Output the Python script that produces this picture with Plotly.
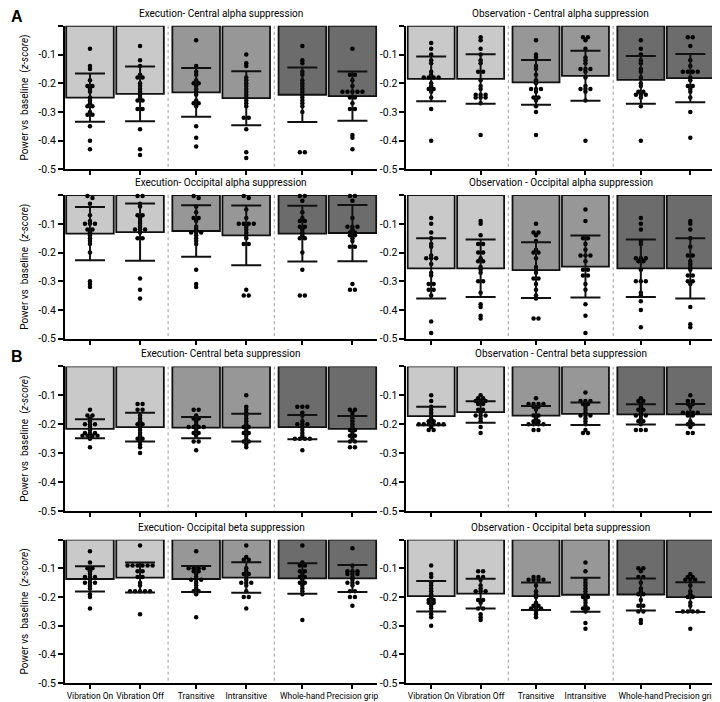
import numpy as np
import plotly.graph_objects as go

conditions = ["Vibration On", "Vibration Off", "Transitive", "Intransitive", "Whole-hand", "Precision grip"]
xpos = [0, 1, 2.12, 3.12, 4.24, 5.24]
separators = [1.56, 3.68]
bar_colors = ["#c9c9c9", "#c9c9c9", "#979797", "#979797", "#6c6c6c", "#6c6c6c"]

titles = [
    "Execution- Central alpha suppression", "Observation - Central alpha suppression",
    "Execution- Occipital alpha suppression", "Observation - Occipital alpha suppression",
    "Execution- Central beta suppression", "Observation - Central beta suppression",
    "Execution- Occipital beta suppression", "Observation - Occipital beta suppression",
]
ytick_vals = [0, -0.1, -0.2, -0.3, -0.4, -0.5]
ytick_text = ["", "-0.1", "-0.2", "-0.3", "-0.4", "-0.5"]

# ---- Execution - Central alpha
ECA_mean = [-0.25, -0.237, -0.232, -0.252, -0.24, -0.245]
ECA_sd = [0.084, 0.095, 0.085, 0.094, 0.095, 0.086]
ECA_pts = [
    [-0.08,-0.14,-0.15,-0.19,-0.21,-0.21,-0.22,-0.23,-0.25,-0.26,-0.27,-0.28,-0.28,-0.30,-0.31,-0.31,-0.35,-0.40,-0.43],
    [-0.07,-0.12,-0.14,-0.17,-0.18,-0.18,-0.2,-0.21,-0.22,-0.23,-0.24,-0.25,-0.26,-0.26,-0.29,-0.29,-0.36,-0.43,-0.45],
    [-0.05,-0.14,-0.16,-0.17,-0.19,-0.2,-0.2,-0.21,-0.22,-0.23,-0.24,-0.26,-0.27,-0.27,-0.28,-0.35,-0.39,-0.42],
    [-0.10,-0.13,-0.14,-0.18,-0.19,-0.2,-0.21,-0.22,-0.23,-0.24,-0.25,-0.26,-0.27,-0.28,-0.32,-0.32,-0.36,-0.44,-0.46],
    [-0.07,-0.12,-0.13,-0.16,-0.17,-0.19,-0.2,-0.21,-0.22,-0.23,-0.24,-0.25,-0.26,-0.27,-0.28,-0.3,-0.44,-0.44],
    [-0.08,-0.17,-0.17,-0.19,-0.21,-0.23,-0.23,-0.23,-0.23,-0.23,-0.25,-0.25,-0.27,-0.29,-0.29,-0.38,-0.39,-0.43],
]
# ---- Observation - Central alpha
OCA_mean = [-0.185, -0.185, -0.197, -0.174, -0.188, -0.182]
OCA_sd = [0.078, 0.086, 0.078, 0.087, 0.083, 0.084]
OCA_pts = [
    [-0.06,-0.08,-0.1,-0.12,-0.13,-0.16,-0.17,-0.18,-0.18,-0.18,-0.18,-0.2,-0.21,-0.22,-0.22,-0.23,-0.25,-0.29,-0.40],
    [-0.04,-0.05,-0.08,-0.1,-0.12,-0.13,-0.16,-0.16,-0.19,-0.21,-0.22,-0.24,-0.24,-0.24,-0.25,-0.25,-0.25,-0.27,-0.38],
    [-0.05,-0.1,-0.11,-0.14,-0.15,-0.17,-0.19,-0.2,-0.22,-0.22,-0.22,-0.23,-0.25,-0.25,-0.26,-0.28,-0.3,-0.38],
    [-0.04,-0.04,-0.05,-0.08,-0.11,-0.12,-0.13,-0.15,-0.15,-0.15,-0.16,-0.18,-0.21,-0.22,-0.22,-0.22,-0.23,-0.26,-0.40],
    [-0.05,-0.08,-0.1,-0.12,-0.13,-0.15,-0.16,-0.18,-0.2,-0.21,-0.23,-0.23,-0.24,-0.24,-0.24,-0.25,-0.28,-0.40],
    [-0.04,-0.04,-0.07,-0.12,-0.14,-0.16,-0.16,-0.16,-0.16,-0.18,-0.19,-0.21,-0.21,-0.22,-0.23,-0.25,-0.3,-0.39],
]
# ---- Execution - Occipital alpha
EOA_mean = [-0.134, -0.129, -0.125, -0.14, -0.134, -0.132]
EOA_sd = [0.093, 0.1, 0.09, 0.104, 0.097, 0.098]
EOA_pts = [
    [-0.003,-0.01,-0.03,-0.07,-0.09,-0.1,-0.1,-0.1,-0.12,-0.12,-0.13,-0.14,-0.15,-0.16,-0.17,-0.2,-0.3,-0.31,-0.32],
    [-0.003,-0.003,-0.03,-0.04,-0.07,-0.07,-0.08,-0.09,-0.1,-0.11,-0.12,-0.12,-0.12,-0.13,-0.15,-0.15,-0.29,-0.33,-0.36],
    [-0.003,-0.01,-0.04,-0.06,-0.08,-0.08,-0.09,-0.11,-0.12,-0.13,-0.13,-0.13,-0.14,-0.15,-0.16,-0.17,-0.26,-0.31,-0.32],
    [-0.003,-0.01,-0.05,-0.08,-0.1,-0.1,-0.1,-0.1,-0.11,-0.12,-0.13,-0.14,-0.15,-0.17,-0.17,-0.33,-0.35,-0.35],
    [-0.003,-0.003,-0.02,-0.06,-0.08,-0.09,-0.09,-0.11,-0.11,-0.12,-0.13,-0.14,-0.15,-0.15,-0.2,-0.26,-0.35,-0.35],
    [-0.003,-0.003,-0.02,-0.08,-0.11,-0.11,-0.11,-0.12,-0.13,-0.13,-0.14,-0.14,-0.15,-0.16,-0.18,-0.18,-0.31,-0.33,-0.33],
]
# ---- Observation - Occipital alpha
OOA_mean = [-0.255, -0.255, -0.261, -0.249, -0.255, -0.255]
OOA_sd = [0.105, 0.1, 0.097, 0.108, 0.1, 0.105]
OOA_pts = [
    [-0.08,-0.1,-0.13,-0.15,-0.17,-0.18,-0.21,-0.22,-0.22,-0.22,-0.24,-0.27,-0.28,-0.31,-0.31,-0.33,-0.33,-0.35,-0.44,-0.48],
    [-0.09,-0.1,-0.14,-0.17,-0.17,-0.2,-0.2,-0.22,-0.23,-0.23,-0.25,-0.26,-0.27,-0.3,-0.3,-0.34,-0.38,-0.39,-0.42,-0.43],
    [-0.1,-0.13,-0.13,-0.14,-0.16,-0.19,-0.2,-0.2,-0.22,-0.25,-0.26,-0.27,-0.29,-0.29,-0.31,-0.33,-0.35,-0.36,-0.43,-0.43],
    [-0.05,-0.09,-0.15,-0.15,-0.17,-0.19,-0.21,-0.21,-0.21,-0.23,-0.26,-0.26,-0.28,-0.28,-0.31,-0.33,-0.38,-0.42,-0.48],
    [-0.08,-0.1,-0.12,-0.16,-0.17,-0.22,-0.22,-0.22,-0.23,-0.23,-0.26,-0.3,-0.3,-0.3,-0.34,-0.35,-0.37,-0.4,-0.46],
    [-0.09,-0.1,-0.12,-0.15,-0.18,-0.21,-0.21,-0.23,-0.24,-0.25,-0.26,-0.28,-0.28,-0.3,-0.3,-0.31,-0.39,-0.45,-0.46],
]
# ---- Execution - Central beta
ECB_mean = [-0.216, -0.21, -0.212, -0.212, -0.21, -0.216]
ECB_sd = [0.033, 0.05, 0.037, 0.048, 0.042, 0.044]
ECB_pts = [
    [-0.15,-0.17,-0.17,-0.18,-0.19,-0.2,-0.2,-0.2,-0.21,-0.22,-0.23,-0.23,-0.23,-0.24,-0.24,-0.24,-0.24,-0.25,-0.28],
    [-0.13,-0.13,-0.15,-0.15,-0.17,-0.18,-0.19,-0.2,-0.2,-0.21,-0.22,-0.23,-0.24,-0.25,-0.25,-0.26,-0.27,-0.28,-0.3],
    [-0.15,-0.15,-0.17,-0.18,-0.18,-0.19,-0.2,-0.21,-0.21,-0.21,-0.21,-0.22,-0.23,-0.23,-0.24,-0.26,-0.26,-0.29],
    [-0.1,-0.14,-0.15,-0.16,-0.17,-0.18,-0.19,-0.2,-0.21,-0.21,-0.22,-0.23,-0.23,-0.24,-0.25,-0.26,-0.26,-0.27,-0.28],
    [-0.14,-0.14,-0.14,-0.16,-0.17,-0.19,-0.2,-0.2,-0.2,-0.21,-0.22,-0.23,-0.24,-0.25,-0.25,-0.25,-0.25,-0.29],
    [-0.15,-0.15,-0.16,-0.17,-0.18,-0.19,-0.2,-0.21,-0.22,-0.22,-0.23,-0.24,-0.24,-0.25,-0.26,-0.26,-0.28,-0.28],
]
# ---- Observation - Central beta
OCB_mean = [-0.172, -0.158, -0.17, -0.164, -0.166, -0.166]
OCB_sd = [0.032, 0.037, 0.033, 0.039, 0.035, 0.036]
OCB_pts = [
    [-0.1,-0.12,-0.14,-0.15,-0.16,-0.17,-0.18,-0.19,-0.19,-0.2,-0.2,-0.2,-0.2,-0.2,-0.2,-0.21,-0.22,-0.22],
    [-0.1,-0.11,-0.11,-0.12,-0.12,-0.12,-0.13,-0.13,-0.15,-0.15,-0.16,-0.17,-0.17,-0.17,-0.18,-0.19,-0.21,-0.23],
    [-0.11,-0.13,-0.13,-0.13,-0.13,-0.14,-0.14,-0.15,-0.17,-0.17,-0.18,-0.19,-0.19,-0.2,-0.2,-0.2,-0.2,-0.22,-0.22],
    [-0.09,-0.12,-0.12,-0.12,-0.13,-0.13,-0.14,-0.15,-0.16,-0.17,-0.17,-0.17,-0.18,-0.19,-0.2,-0.22,-0.23,-0.23],
    [-0.11,-0.12,-0.12,-0.13,-0.14,-0.15,-0.15,-0.16,-0.17,-0.17,-0.17,-0.18,-0.19,-0.19,-0.2,-0.22,-0.22,-0.22],
    [-0.1,-0.12,-0.12,-0.13,-0.13,-0.14,-0.16,-0.16,-0.16,-0.16,-0.17,-0.17,-0.19,-0.2,-0.2,-0.21,-0.23,-0.23],
]
# ---- Execution - Occipital beta
EOB_mean = [-0.137, -0.132, -0.137, -0.132, -0.135, -0.135]
EOB_sd = [0.044, 0.052, 0.045, 0.053, 0.053, 0.047]
EOB_pts = [
    [-0.04,-0.08,-0.1,-0.1,-0.11,-0.12,-0.13,-0.13,-0.13,-0.14,-0.15,-0.15,-0.15,-0.16,-0.17,-0.19,-0.2,-0.24],
    [-0.02,-0.09,-0.09,-0.09,-0.09,-0.09,-0.09,-0.11,-0.11,-0.13,-0.13,-0.15,-0.16,-0.18,-0.18,-0.18,-0.18,-0.18,-0.26],
    [-0.04,-0.1,-0.1,-0.1,-0.1,-0.11,-0.11,-0.12,-0.13,-0.14,-0.14,-0.14,-0.15,-0.16,-0.17,-0.18,-0.18,-0.19,-0.27],
    [-0.02,-0.06,-0.07,-0.07,-0.1,-0.11,-0.12,-0.12,-0.13,-0.14,-0.15,-0.15,-0.15,-0.16,-0.18,-0.2,-0.2,-0.24],
    [-0.02,-0.08,-0.09,-0.09,-0.11,-0.11,-0.12,-0.13,-0.13,-0.14,-0.15,-0.15,-0.16,-0.17,-0.18,-0.19,-0.28],
    [-0.03,-0.09,-0.11,-0.11,-0.11,-0.12,-0.12,-0.12,-0.13,-0.14,-0.15,-0.15,-0.15,-0.16,-0.18,-0.18,-0.2,-0.2,-0.23],
]
# ---- Observation - Occipital beta
OOB_mean = [-0.197, -0.188, -0.197, -0.192, -0.191, -0.2]
OOB_sd = [0.053, 0.052, 0.048, 0.059, 0.056, 0.052]
OOB_pts = [
    [-0.09,-0.12,-0.13,-0.15,-0.16,-0.17,-0.18,-0.19,-0.2,-0.21,-0.21,-0.22,-0.22,-0.23,-0.24,-0.25,-0.26,-0.27,-0.3],
    [-0.11,-0.11,-0.13,-0.13,-0.14,-0.16,-0.17,-0.18,-0.18,-0.18,-0.21,-0.21,-0.22,-0.24,-0.24,-0.26,-0.27,-0.28],
    [-0.13,-0.13,-0.14,-0.14,-0.14,-0.14,-0.16,-0.18,-0.19,-0.2,-0.22,-0.23,-0.23,-0.24,-0.24,-0.24,-0.25,-0.26,-0.27],
    [-0.08,-0.11,-0.14,-0.15,-0.16,-0.17,-0.18,-0.19,-0.2,-0.2,-0.21,-0.22,-0.23,-0.24,-0.24,-0.25,-0.29,-0.31],
    [-0.1,-0.1,-0.11,-0.13,-0.13,-0.15,-0.17,-0.18,-0.19,-0.19,-0.21,-0.23,-0.23,-0.25,-0.25,-0.28,-0.29],
    [-0.12,-0.13,-0.13,-0.14,-0.14,-0.14,-0.16,-0.18,-0.19,-0.2,-0.2,-0.22,-0.23,-0.25,-0.25,-0.25,-0.25,-0.31],
]

panels = [
    (ECA_mean, ECA_sd, ECA_pts), (OCA_mean, OCA_sd, OCA_pts),
    (EOA_mean, EOA_sd, EOA_pts), (OOA_mean, OOA_sd, OOA_pts),
    (ECB_mean, ECB_sd, ECB_pts), (OCB_mean, OCB_sd, OCB_pts),
    (EOB_mean, EOB_sd, EOB_pts), (OOB_mean, OOB_sd, OOB_pts),
]

W, H = 720, 702
FONT = "Roboto, DejaVu Sans Condensed, sans-serif"

col_px = [(57, 370), (399, 708)]
row_px = [(18, 163), (189, 334), (362, 508), (537, 682)]


def swarm_offsets(vals, tol=0.0095, step=0.1):
    v = np.asarray(vals, dtype=float)
    order = np.argsort(-v)
    offs = np.zeros(len(v))
    groups = []
    cur = [order[0]]
    for idx in order[1:]:
        if abs(v[idx] - v[cur[0]]) < tol:
            cur.append(idx)
        else:
            groups.append(cur)
            cur = [idx]
    groups.append(cur)
    for g in groups:
        n = len(g)
        for k, idx in enumerate(g):
            offs[idx] = (k - (n - 1) / 2) * step
    return offs


fig = go.Figure()
layout = {}
shapes = []
annotations = []

for p, (means, sds, pts) in enumerate(panels):
    r, c = divmod(p, 2)
    n = p + 1
    xa = "x" if n == 1 else f"x{n}"
    ya = "y" if n == 1 else f"y{n}"
    xk = "xaxis" if n == 1 else f"xaxis{n}"
    yk = "yaxis" if n == 1 else f"yaxis{n}"
    x0, x1 = col_px[c]
    y0, y1 = row_px[r]
    xdom = [x0 / W, x1 / W]
    ydom = [1 - y1 / H, 1 - y0 / H]

    fig.add_trace(go.Bar(
        x=xpos, y=means, width=0.95, xaxis=xa, yaxis=ya,
        marker=dict(color=bar_colors, line=dict(color="#111111", width=1.8)),
        showlegend=False, hoverinfo="skip",
    ))
    px_, py_ = [], []
    for i, vals in enumerate(pts):
        offs = swarm_offsets(vals)
        px_.extend(list(xpos[i] + offs))
        py_.extend(vals)
    fig.add_trace(go.Scatter(
        x=px_, y=py_, mode="markers", xaxis=xa, yaxis=ya,
        marker=dict(color="black", size=4.5), showlegend=False, hoverinfo="skip",
        cliponaxis=False,
    ))
    fig.add_trace(go.Scatter(
        x=xpos, y=means, mode="markers", xaxis=xa, yaxis=ya,
        marker=dict(color="rgba(0,0,0,0)", size=1),
        error_y=dict(type="data", array=sds, visible=True, color="#111111", thickness=2, width=15),
        showlegend=False, hoverinfo="skip",
    ))

    bottom = (r == 3)
    layout[xk] = dict(
        domain=xdom, anchor=ya, range=[-0.5, 5.74],
        tickmode="array", tickvals=xpos,
        ticktext=conditions if bottom else [""] * 6, tickangle=0,
        ticks="outside", ticklen=4, tickwidth=1.5, tickcolor="black",
        showline=True, linecolor="black", linewidth=2,
        showgrid=False, zeroline=False, fixedrange=True,
        tickfont=dict(family=FONT, size=8.5, color="black"),
    )
    layout[yk] = dict(
        domain=ydom, anchor=xa, range=[-0.5, 0],
        tickmode="array", tickvals=ytick_vals, ticktext=ytick_text,
        ticks="outside", ticklen=5, tickwidth=1.5, tickcolor="black",
        showline=True, linecolor="black", linewidth=2,
        showgrid=False, zeroline=False, fixedrange=True,
        tickfont=dict(family=FONT, size=10.5, color="black"),
    )
    for s in separators:
        shapes.append(dict(type="line", xref=xa, yref=ya, x0=s, x1=s, y0=0, y1=-0.5,
                           line=dict(color="#9a9a9a", width=1, dash="dot")))
    annotations.append(dict(
        text=titles[p], xref="paper", yref="paper",
        x=(xdom[0] + xdom[1]) / 2, y=ydom[1], yshift=5,
        xanchor="center", yanchor="bottom", showarrow=False,
        font=dict(family=FONT, size=10, color="black"),
    ))
    if c == 0:
        annotations.append(dict(
            text="Power vs  baseline  (<i>z-score</i>)", xref="paper", yref="paper",
            x=17 / W, y=(ydom[0] + ydom[1]) / 2, textangle=-90,
            xanchor="center", yanchor="middle", showarrow=False,
            font=dict(family=FONT, size=10, color="black"),
        ))

annotations.append(dict(text="<b>A</b>", xref="paper", yref="paper", x=1 / W, y=1 - 9 / H,
                        xanchor="left", yanchor="middle", showarrow=False,
                        font=dict(family="Liberation Sans, Arial, sans-serif", size=16, color="black")))
annotations.append(dict(text="<b>B</b>", xref="paper", yref="paper", x=1 / W, y=1 - 352 / H,
                        xanchor="left", yanchor="middle", showarrow=False,
                        font=dict(family="Liberation Sans, Arial, sans-serif", size=16, color="black")))

fig.update_layout(
    width=W, height=H, margin=dict(l=0, r=0, t=0, b=0),
    paper_bgcolor="white", plot_bgcolor="white",
    barmode="overlay", shapes=shapes, annotations=annotations,
    font=dict(family=FONT, color="black"),
    **layout,
)
fig.write_html("out.html")
